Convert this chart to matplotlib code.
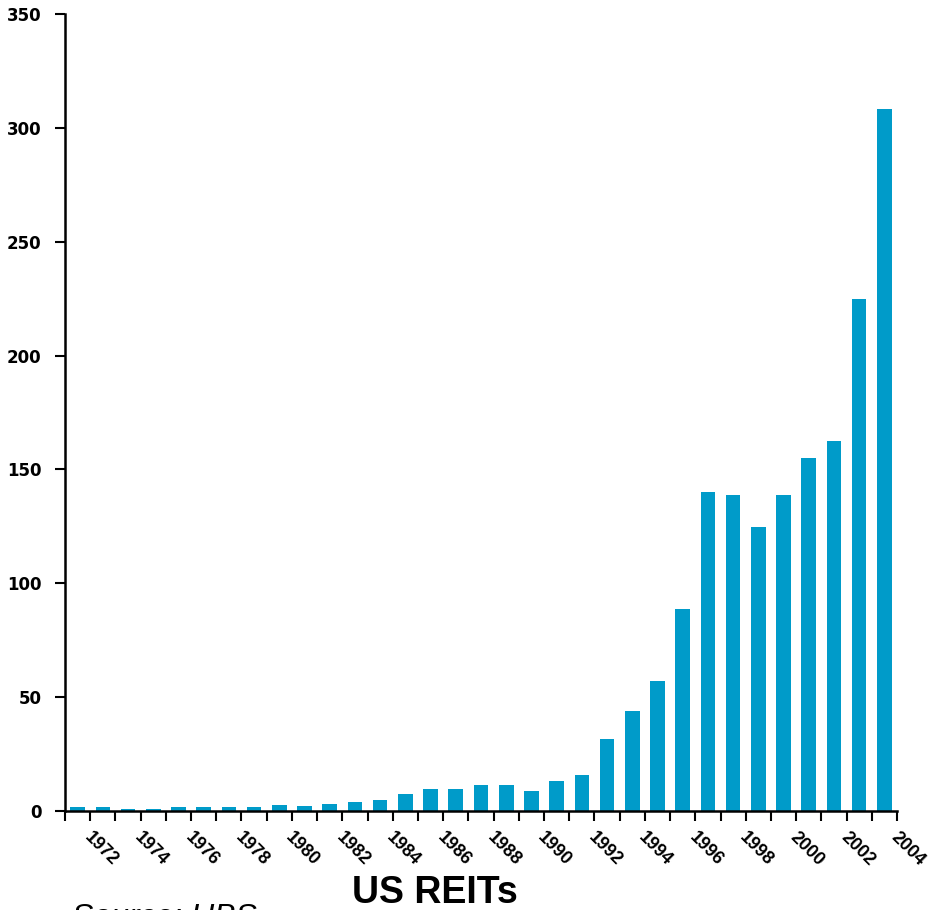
import numpy as np
import matplotlib
matplotlib.use("Agg")
import matplotlib.pyplot as plt

plt.rcParams['font.family'] = ['Liberation Sans', 'DejaVu Sans']

# --- data ---
years = list(range(1971, 2004))
values = [1.8, 1.8, 0.9, 0.9, 1.8, 1.8, 1.8, 1.8, 2.6, 2.4,
          3.2, 4.1, 4.8, 7.3, 9.7, 9.7, 11.4, 11.4, 9.0, 13.0,
          15.6, 31.6, 43.9, 57.1, 88.7, 140.1, 138.6, 124.5, 138.6, 154.8,
          162.3, 224.8, 308.3]
tick_years = list(range(1972, 2005, 2))
yticks = [0, 50, 100, 150, 200, 250, 300, 350]

bar_color = '#009BC9'

fig = plt.figure(figsize=(9.39, 9.10), dpi=100)
ax = fig.add_axes([65 / 939, 1 - 811 / 910, (897 - 65) / 939, (811 - 14) / 910])

x = np.arange(len(values)) + 0.5
ax.bar(x, values, width=0.58, color=bar_color, zorder=2)

ax.set_xlim(0, len(values))
ax.set_ylim(0, 350)

# ticks between categories, labels every second year
ax.set_xticks(np.arange(0, len(values) + 1))
ax.set_xticklabels([])
for yr in tick_years:
    pos = yr - 1971
    ax.text(pos + 0.1, -8, str(yr), rotation=-45, rotation_mode='anchor',
            ha='left', va='top', fontsize=13, fontweight='bold')

ax.set_yticks(yticks)
ax.set_yticklabels([str(v) for v in yticks], fontsize=12, fontweight='bold',
                   family='DejaVu Sans')

ax.tick_params(axis='y', direction='out', length=7, width=1.5, pad=10)
ax.tick_params(axis='x', direction='out', length=7, width=1.5)

for s in ['top', 'right']:
    ax.spines[s].set_visible(False)
for s in ['left', 'bottom']:
    ax.spines[s].set_linewidth(1.8)

fig.text(435 / 939, 1 - 903 / 910, 'US REITs', ha='center', va='baseline',
         fontsize=27, fontweight='bold')
fig.text(72 / 939, 1 - 903 / 910, 'Source: UBS', ha='left', va='top',
         fontsize=23, style='italic')

fig.savefig('out.png', dpi=100)
